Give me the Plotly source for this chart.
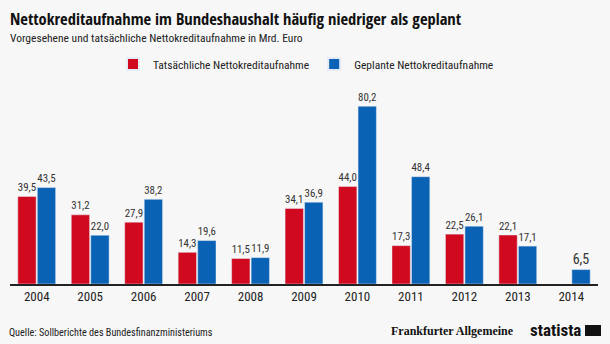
import plotly.graph_objects as go

years = ["2004", "2005", "2006", "2007", "2008", "2009", "2010", "2011", "2012", "2013", "2014"]
actual = [39.5, 31.2, 27.9, 14.3, 11.5, 34.1, 44.0, 17.3, 22.5, 22.1, None]
planned = [43.5, 22.0, 38.2, 19.6, 11.9, 36.9, 80.2, 48.4, 26.1, 17.1, 6.5]

RED = "#d0091f"
BLUE = "#0a62b4"
BG = "#f7f7f7"
FONT = "Roboto Condensed, Roboto, sans-serif"
TFONT = "Open Sans Condensed, Roboto Condensed, sans-serif"

def fmt(v):
    return "" if v is None else f"{v:.1f}".replace(".", ",")

fig = go.Figure()
fig.add_bar(x=years, y=actual, name="Tatsächliche Nettokreditaufnahme",
            marker_color=RED, text=[fmt(v) for v in actual], textposition="outside",
            cliponaxis=False, textfont=dict(size=14, color="#333333", family=FONT))
fig.add_bar(x=years, y=planned, name="Geplante Nettokreditaufnahme",
            marker_color=BLUE, text=[fmt(v) for v in planned], textposition="outside",
            cliponaxis=False, textfont=dict(size=14, color="#333333", family=FONT))

PH = 184  # plot height in px (top at 100, bottom at 284)

def py(p):
    return (284 - p) / PH

def px(p):
    return (p - 10) / 588

fig.update_layout(
    width=610, height=344,
    paper_bgcolor=BG, plot_bgcolor=BG,
    margin=dict(l=10, r=12, t=100, b=60),
    barmode="group", bargap=0.27, bargroupgap=0.06,
    font=dict(family=FONT, color="#222222"),
    showlegend=True,
    legend=dict(orientation="h", x=px(306), xanchor="center", y=py(64), yanchor="middle",
                font=dict(size=11.5, color="#222222", family=FONT), bgcolor="rgba(0,0,0,0)",
                traceorder="normal", itemsizing="constant"),
    xaxis=dict(showline=True, linecolor="#222222", linewidth=1.5, ticks="",
               tickfont=dict(size=13, color="#222222", family=FONT), showgrid=False),
    yaxis=dict(range=[0, 83], visible=False, showgrid=False),
)

fig.add_annotation(text="<b>Nettokreditaufnahme im Bundeshaushalt häufig niedriger als geplant</b>",
                   xref="paper", yref="paper", x=px(8), y=py(18), xanchor="left", yanchor="middle",
                   showarrow=False, font=dict(size=16.5, color="#111111", family=TFONT))
fig.add_annotation(text="Vorgesehene und tatsächliche Nettokreditaufnahme in Mrd. Euro",
                   xref="paper", yref="paper", x=px(8), y=py(38), xanchor="left", yanchor="middle",
                   showarrow=False, font=dict(size=11.5, color="#222222", family=FONT))

fig.add_annotation(text="Quelle: Sollberichte des Bundesfinanzministeriums",
                   xref="paper", yref="paper", x=px(7), y=py(332), xanchor="left", yanchor="middle",
                   showarrow=False, font=dict(size=10.2, color="#222222", family=FONT))
fig.add_annotation(text="<b>Frankfurter Allgemeine</b>",
                   xref="paper", yref="paper", x=px(516), y=py(331), xanchor="right", yanchor="middle",
                   showarrow=False, font=dict(size=12, color="#111111", family="Liberation Serif, serif"))
fig.add_annotation(text="<b>statista</b>",
                   xref="paper", yref="paper", x=px(583), y=py(330), xanchor="right", yanchor="middle",
                   showarrow=False, font=dict(size=17, color="#111111", family=FONT))
fig.add_shape(type="rect", xref="paper", yref="paper", x0=px(585), x1=px(601), y0=py(336), y1=py(325),
              fillcolor="#111111", line_width=0)

fig.write_html("out.html")
